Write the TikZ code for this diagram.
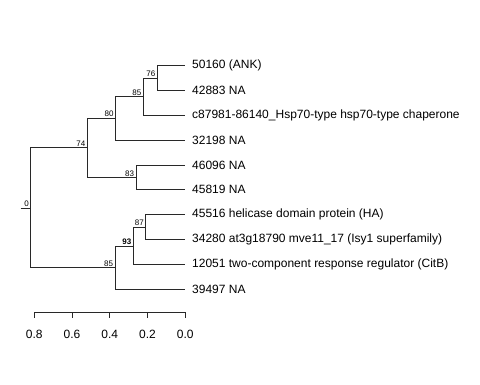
\documentclass[tikz,border=0pt]{standalone}
\usepackage{fontspec}
\setmainfont{Liberation Sans}
\usetikzlibrary{positioning}
\definecolor{branchgray}{RGB}{40,40,40}

\tikzset{
  branch/.style={draw=branchgray, line width=0.8pt},
  tiplabel/.style={anchor=west, inner sep=2pt, font=\fontsize{12}{14}\selectfont},
  boot/.style={anchor=south east, inner sep=1pt, xshift=-0.8pt, font=\fontsize{8}{9}\selectfont},
  axlabel/.style={inner sep=1pt, font=\fontsize{12}{14}\selectfont},
}

\begin{document}
\begin{tikzpicture}[x=1pt,y=-1pt]
    \useasboundingbox (0,0) rectangle (480,384);

    % Tips and their labels
    \foreach \i/\t in {1/50160 (ANK), 2/42883 NA, 3/c87981-86140\_Hsp70-type hsp70-type chaperone,
        4/32198 NA, 5/46096 NA, 6/45819 NA, 7/45516 helicase domain protein (HA),
        8/34280 at3g18790 mve11\_17 (Isy1 superfamily),
        9/12051 two-component response regulator (CitB), 10/39497 NA} {
        \coordinate (t\i) at (185.3,65.5+24.85*\i-24.85);
        \node[tiplabel, right=4.7pt of t\i] (l\i) {\t};
    }

    % Internal nodes with bootstrap values
    \coordinate (rootstub) at (20.7,208);
    \coordinate[label={[boot]0}] (root) at (30.7,208);
    \coordinate[label={[boot]74}] (nA) at (87.3,147.6);
    \coordinate[label={[boot]80}] (nB) at (115.5,118);
    \coordinate[label={[boot]85}] (nC) at (143.3,96.6);
    \coordinate[label={[boot]76}] (nD) at (157.3,77.9);
    \coordinate[label={[boot]83}] (nE) at (136,177.3);
    \coordinate[label={[boot]85}] (nF) at (115,267.7);
    \coordinate[label={[boot]\textbf{93}}] (nG) at (133.3,245.9);
    \coordinate[label={[boot]87}] (nH) at (145.7,227);

    % Branches
    \draw[branch] (rootstub) -- (root);
    \foreach \p/\c in {root/nA, root/nF, nA/nB, nA/nE, nB/nC, nB/t4, nC/nD, nC/t3,
        nD/t1, nD/t2, nE/t5, nE/t6, nF/nG, nF/t10, nG/nH, nG/t9, nH/t7, nH/t8} {
        \draw[branch] (\p) |- (\c);
    }

    % Scale axis
    \coordinate (ax0) at (34.3,312);
    \coordinate (ax1) at (185.3,312);
    \draw[branch] (ax0) -- (ax1);
    \foreach \v [count=\k] in {0.8,0.6,0.4,0.2,0.0} {
        \draw[branch] (185.3-188.75*\v,312) -- ++(0,6);
        \node[axlabel] (v\k) at (185.3-188.75*\v,334) {\v};
    }
\end{tikzpicture}
\end{document}
